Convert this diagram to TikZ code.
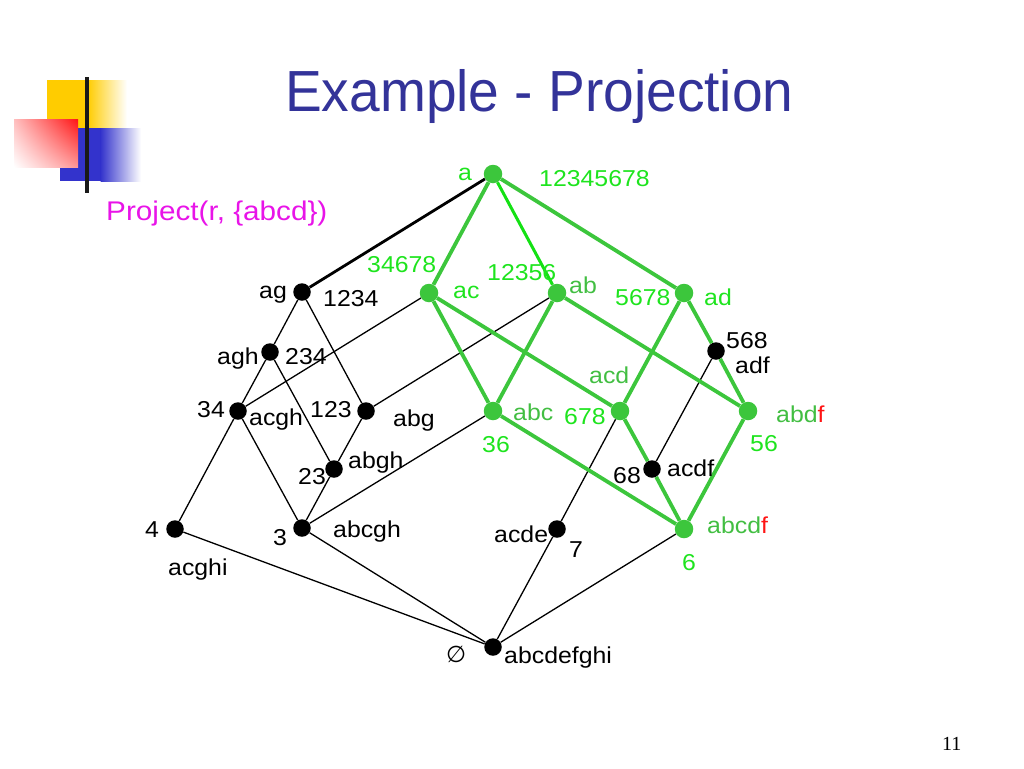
\documentclass[tikz,border=0pt]{standalone}
\usepackage{fontspec}
\usetikzlibrary{shadings}
\setmainfont{Liberation Sans}
\newfontfamily\titlefont[FakeStretch=0.95]{Liberation Sans}
\newfontfamily\labfont[FakeStretch=1.08]{Liberation Sans}
\newfontfamily\projfont[FakeStretch=1.1]{Liberation Sans}
\newfontfamily\symfont{DejaVu Sans}
\newfontfamily\pgfont{Liberation Serif}
\definecolor{titleblue}{RGB}{51,51,153}
\definecolor{magentatext}{RGB}{232,20,232}
\definecolor{gtext}{RGB}{30,228,30}
\definecolor{gdark}{RGB}{66,190,66}
\definecolor{gnode}{RGB}{60,198,60}
\definecolor{gbright}{RGB}{20,225,20}
\definecolor{logoyellow}{RGB}{255,204,0}
\definecolor{logoblue}{RGB}{51,51,204}
\definecolor{logored}{RGB}{255,20,20}
\definecolor{redlight}{RGB}{255,190,190}
\definecolor{redmid}{RGB}{255,150,150}
\tikzset{
  bdot/.style={circle,fill=black,inner sep=0pt,minimum size=17.5pt},
  gdot/.style={circle,fill=gnode,inner sep=0pt,minimum size=18.5pt},
  lab/.style={anchor=base west,inner sep=0pt,font=\labfont\fontsize{23}{27}\selectfont},
  bedge/.style={draw=black,line width=1.3pt},
  thickedge/.style={draw=black,line width=2.8pt},
  gedge/.style={draw=gnode,line width=3.8pt},
  gbedge/.style={draw=gbright,line width=3pt}
}
\begin{document}
\begin{tikzpicture}[x=1pt,y=-1pt]
\useasboundingbox (0,0) rectangle (1024,768);
% logo
\fill[logoyellow] (47,80) rectangle (88,128);
\shade[left color=logoyellow,right color=white] (87.5,80) rectangle (127,128);
\fill[logoblue] (60,128) rectangle (101,181);
\shade[left color=logoblue,right color=white] (100.5,128) rectangle (141,181);
\shade[upper left=redlight,upper right=logored,lower left=white,lower right=redmid] (14,119) rectangle (78,167);
\draw[line width=4pt,black!90] (87,77) -- (87,193);
% title
\node[anchor=base west,inner sep=0pt,text=titleblue,font=\titlefont\fontsize{58}{64}\selectfont] (title) at (285,111) {Example - Projection};
\node[anchor=base west,inner sep=0pt,text=magentatext,font=\projfont\fontsize{27}{31}\selectfont] (proj) at (106,220) {Project(r, \{abcd\})};
\node[anchor=base west,inner sep=0pt,font=\pgfont\fontsize{20}{24}\selectfont] (pg) at (942,750) {11};
% nodes
\node[gdot] (a) at (493,174) {};
\node[bdot] (ag) at (302,292) {};
\node[gdot] (ac) at (429,293) {};
\node[gdot] (ab) at (557,293) {};
\node[gdot] (ad) at (684,293) {};
\node[bdot] (agh) at (270,352) {};
\node[bdot] (adf) at (716,351) {};
\node[bdot] (n34) at (238,411) {};
\node[bdot] (abg) at (366,411) {};
\node[gdot] (abc) at (493,411) {};
\node[gdot] (acd) at (620,411) {};
\node[gdot] (abdf) at (748,411) {};
\node[bdot] (abgh) at (334,469) {};
\node[bdot] (acdf) at (652,469) {};
\node[bdot] (n4) at (175,529) {};
\node[bdot] (abcgh) at (302,528) {};
\node[bdot] (acde) at (557,529) {};
\node[gdot] (abcdf) at (684,529) {};
\node[bdot] (empty) at (493,647) {};
% black edges
\draw[thickedge] (a) -- (ag);
\draw[bedge] (ag) -- (agh);
\draw[bedge] (ag) -- (abg);
\draw[bedge] (agh) -- (n34);
\draw[bedge] (agh) -- (abgh);
\draw[bedge] (n34) -- (n4);
\draw[bedge] (n34) -- (abcgh);
\draw[bedge] (n34) -- (ac);
\draw[bedge] (abg) -- (abgh);
\draw[bedge] (abg) -- (ab);
\draw[bedge] (abgh) -- (abcgh);
\draw[bedge] (abcgh) -- (abc);
\draw[bedge] (n4) -- (empty);
\draw[bedge] (abcgh) -- (empty);
\draw[bedge] (acde) -- (empty);
\draw[bedge] (abcdf) -- (empty);
\draw[bedge] (acde) -- (acd);
\draw[bedge] (adf) -- (acdf);
% green edges
\draw[gedge] (a) -- (ac);
\draw[gbedge] (a) -- (ab);
\draw[gedge] (a) -- (ad);
\draw[gedge] (ac) -- (abc);
\draw[gedge] (ac) -- (acd);
\draw[gedge] (ab) -- (abc);
\draw[gedge] (ab) -- (abdf);
\draw[gedge] (ad) -- (acd);
\draw[gedge] (ad) -- (adf);
\draw[gedge] (adf) -- (abdf);
\draw[gedge] (abc) -- (abcdf);
\draw[gedge] (acd) -- (acdf);
\draw[gedge] (acdf) -- (abcdf);
\draw[gedge] (abdf) -- (abcdf);
% labels
\node[lab,text=gtext] (la) at (458,180) {a};
\node[lab,text=gtext] (la2) at (539,186) {12345678};
\node[lab] (lag) at (259,298) {ag};
\node[lab] (lag2) at (323,306) {1234};
\node[lab,text=gtext] (lac2) at (367,272) {34678};
\node[lab,text=gtext] (lac) at (453,298) {ac};
\node[lab,text=gtext] (lab2) at (487,280) {12356};
\node[lab,text=gdark] (lab) at (569,293) {ab};
\node[lab,text=gtext] (lad2) at (615,305) {5678};
\node[lab,text=gtext] (lad) at (704,305) {ad};
\node[lab] (lagh) at (217,364) {agh};
\node[lab] (lagh2) at (285,364) {234};
\node[lab] (ladf2) at (726,348) {568};
\node[lab] (ladf) at (735,373) {adf};
\node[lab] (l34) at (197,417) {34};
\node[lab] (l34b) at (249,425) {acgh};
\node[lab] (labg2) at (310,417) {123};
\node[lab] (labg) at (393,426) {abg};
\node[lab,text=gdark] (labc) at (513,420) {abc};
\node[lab,text=gtext] (labc2) at (482,452) {36};
\node[lab,text=gdark] (lacd) at (589,383) {acd};
\node[lab,text=gtext] (lacd2) at (564,424) {678};
\node[lab,text=gdark] (labdf) at (776,422) {abd\textcolor{logored}{f}};
\node[lab,text=gtext] (labdf2) at (750,451) {56};
\node[lab] (labgh2) at (298,484) {23};
\node[lab] (labgh) at (348,468) {abgh};
\node[lab] (lacdf2) at (613,483) {68};
\node[lab] (lacdf) at (667,476) {acdf};
\node[lab] (l4) at (145,537) {4};
\node[lab] (l4b) at (168,575) {acghi};
\node[lab] (labcgh2) at (273,545) {3};
\node[lab] (labcgh) at (333,537) {abcgh};
\node[lab] (lacde) at (494,542) {acde};
\node[lab] (lacde2) at (569,557) {7};
\node[lab,text=gdark] (labcdf) at (707,533) {abcd\textcolor{logored}{f}};
\node[lab,text=gtext] (labcdf2) at (682,570) {6};
\node[anchor=base west,inner sep=0pt,font=\symfont\fontsize{23}{27}\selectfont] (lempty) at (446,662) {∅};
\node[lab] (lempty2) at (504,663) {abcdefghi};
\end{tikzpicture}
\end{document}
